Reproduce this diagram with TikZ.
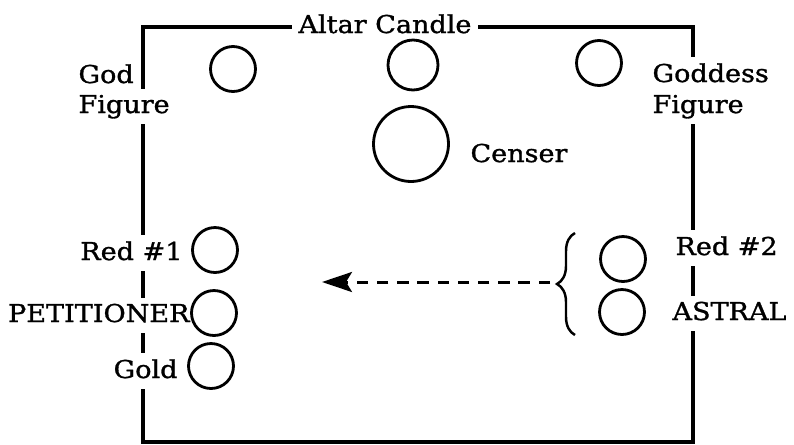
\documentclass[tikz,border=0pt]{standalone}
\usepackage{fontspec}
\setmainfont{DejaVu Serif}[FakeStretch=1.1, FakeBold=1.2]
\usetikzlibrary{arrows.meta, positioning, backgrounds, decorations.pathreplacing}

\begin{document}
\begin{tikzpicture}[
  x=0.02cm, y=-0.02cm,
  candle/.style={circle, draw, line width=1.6pt, inner sep=0pt,
                 minimum size=0.9cm},
  lbl/.style={fill=white, inner sep=3.5pt, text depth=3pt,
              font=\fontsize{14}{17}\selectfont},
  frame/.style={line width=1.9pt},
  brc/.style={line width=1.4pt, decorate,
              decoration={brace, amplitude=0.36cm}},
  arr/.style={-{Stealth[length=0.6cm, width=0.4cm, inset=0.12cm]},
              line width=1.7pt, dash pattern=on 6.5pt off 5pt}
]
  \useasboundingbox (0,0) rectangle (794,444);

  % labels first, so the circles stay on top
  \node[lbl, anchor=base west] (godlbl)      at (72,83)   {God};
  \node[lbl, anchor=base west] (godlbl2)     at (72,113)  {Figure};
  \node[lbl, anchor=base west] (altarlbl)    at (292,33)  {Altar Candle};
  \node[lbl, anchor=base west] (goddesslbl)  at (646,82)  {Goddess};
  \node[lbl, anchor=base west] (goddesslbl2) at (646,113) {Figure};
  \node[lbl, anchor=base west] (censerlbl)   at (464,162) {Censer};
  \node[lbl, anchor=base east] (red1lbl)     at (189,260) {Red \#1};
  \node[lbl, anchor=base east] (petlbl)      at (196,322) {PETITIONER};
  \node[lbl, anchor=base east] (goldlbl)     at (184,378) {Gold};
  \node[lbl, anchor=base west] (red2lbl)     at (669,255) {Red \#2};
  \node[lbl, anchor=base west] (astrallbl)   at (666,320) {ASTRAL};

  \node[candle] (godc)     at (233,69) {};
  \node[candle, minimum size=1cm] (altarc) at (413,65) {};
  \node[candle] (goddessc) at (599,63) {};
  \node[candle, minimum size=1.5cm] (censer) at (411,144) {};

  \node[candle] (red1)       at (215,250) {};
  \node[candle] (petitioner) at (214,313) {};
  \node[candle] (gold)       at (211,366) {};
  \node[candle] (red2)       at (623,259) {};
  \node[candle] (astral)     at (622,312) {};

  \begin{scope}[on background layer]
    \draw[frame] (143,27) rectangle (693,442);
  \end{scope}

  \coordinate (btop) at (575,233);
  \coordinate (bbot) at (575,335);
  \coordinate (btip) at (550,282);
  \coordinate (aend) at (322,282);

  \draw[brc] (bbot) -- (btop);
  \draw[arr] (btip) -- (aend);
\end{tikzpicture}
\end{document}
